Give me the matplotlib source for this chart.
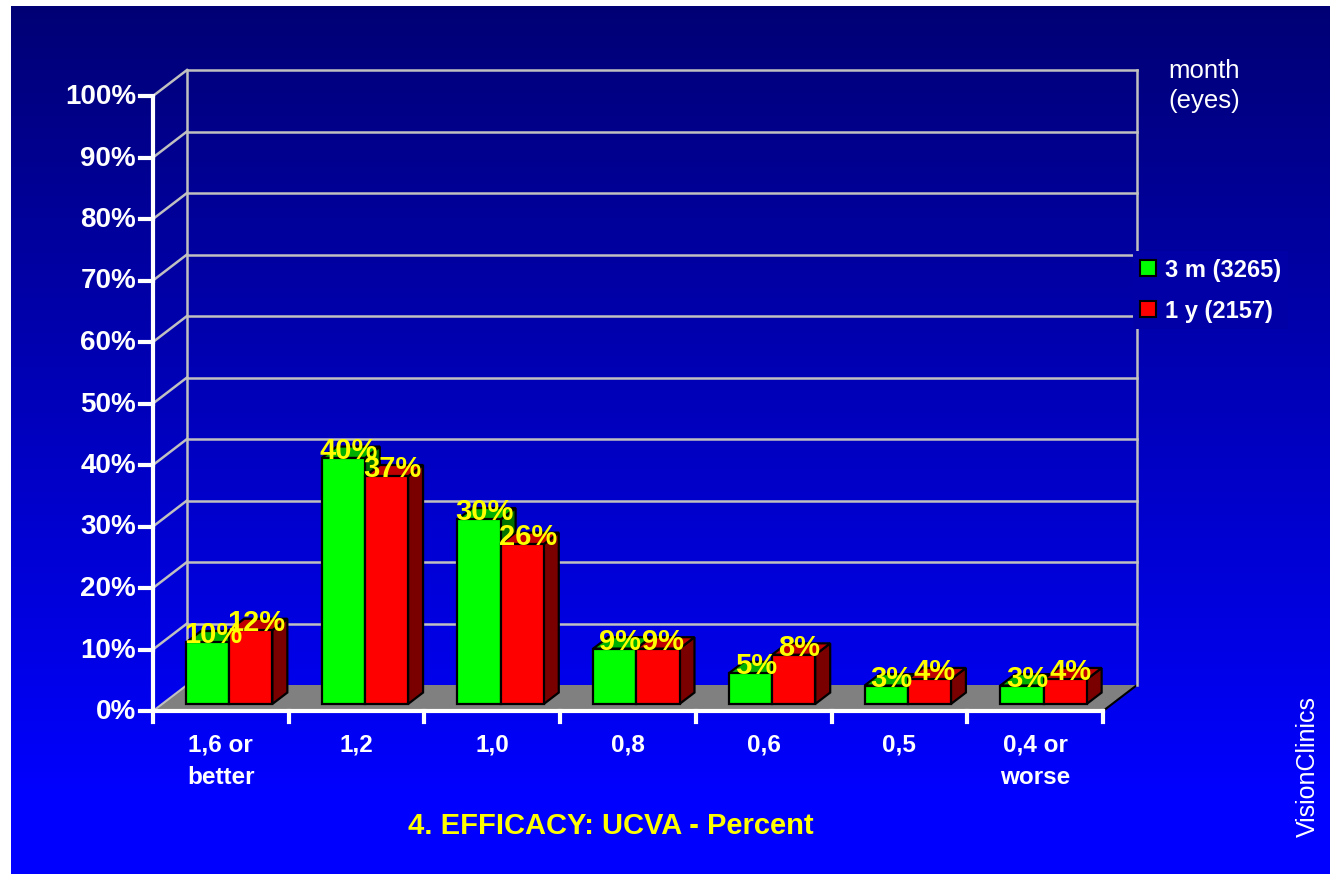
import matplotlib.pyplot as plt
import numpy as np
from matplotlib.patches import Polygon
from matplotlib.lines import Line2D

plt.rcParams['font.family'] = ['Liberation Sans', 'DejaVu Sans']

categories = ['1,6 or\nbetter', '1,2', '1,0', '0,8', '0,6', '0,5', '0,4 or\nworse']
m3 = [10, 40, 30, 9, 5, 3, 3]
y1 = [12, 37, 26, 9, 8, 4, 4]
yticks = np.arange(0, 101, 10)
series_names = ['3 m (3265)', '1 y (2157)']

W, H = 1332, 879
fig = plt.figure(figsize=(W / 100, H / 100), dpi=100, facecolor='white')

# background gradient
bg = fig.add_axes([0, 0, 1, 1])
bg.set_xlim(0, W)
bg.set_ylim(H, 0)
bg.axis('off')


def shade(yp):
    t = min(max((yp - 7) / 790, 0), 1)
    return (0, 0, (0x75 + (0xFF - 0x75) * t) / 255)


grad = np.array([shade(v) for v in np.linspace(7, 875, 300)])[:, None, :]
bg.imshow(grad, extent=(11, 1330, 875, 7), aspect='auto', zorder=0)

# main "3d" axes, front plane in data coords
n = len(categories)
ax = fig.add_axes([153 / W, (H - 712) / H, 950 / W, 615 / H])
ax.set_xlim(0, n)
ax.set_ylim(0, 100)
ax.axis('off')
ax.patch.set_visible(False)

DX = 34 / (950 / n)
DY = 26 / 6.15
f0, f1 = 0.27, 0.71
a, w = 0.176, 0.318
grid_c = '#C0C0C0'

# floor
ax.add_patch(Polygon([(0, 0), (n, 0), (n + DX, DY), (DX, DY)], closed=True,
                     fc='#808080', ec='none', zorder=1, clip_on=False))
ax.plot([n, n + DX], [0, DY], color='black', lw=1.5, zorder=1, clip_on=False)
ax.plot([0, DX], [0, DY], color=grid_c, lw=1.5, zorder=1, clip_on=False)

# walls and gridlines
for t in yticks[1:]:
    ax.plot([DX, n + DX], [t + DY, t + DY], color=grid_c, lw=1.8, zorder=1, clip_on=False)
    ax.plot([0, DX], [t, t + DY], color=grid_c, lw=1.8, zorder=1, clip_on=False)
ax.plot([DX, DX], [DY, 100 + DY], color=grid_c, lw=1.8, zorder=1, clip_on=False)
ax.plot([n + DX, n + DX], [DY, 100 + DY], color=grid_c, lw=1.8, zorder=1, clip_on=False)

# axes lines, ticks, labels
ax.plot([0, 0], [0, 100], color='white', lw=3, zorder=3, clip_on=False, solid_capstyle='butt')
ax.plot([0, n], [0, 0], color='white', lw=3, zorder=3, clip_on=False, solid_capstyle='projecting')
for t in yticks:
    ax.plot([-0.096, 0], [t, t], color='white', lw=3, zorder=3, clip_on=False)
    ax.text(-0.125, t, f'{t}%', ha='right', va='center', color='white',
            fontsize=20, fontweight='bold')
for i in range(n + 1):
    ax.plot([i, i], [0, -1.8], color='white', lw=3, zorder=3, clip_on=False)
for i, c in enumerate(categories):
    ax.text(i + 0.5, -3.5, c, ha='center', va='top', color='white',
            fontsize=17.5, fontweight='bold', linespacing=1.5)


def box(x0, h, front, top, side):
    p_front = [(x0 + f0 * DX, f0 * DY), (x0 + w + f0 * DX, f0 * DY),
               (x0 + w + f0 * DX, h + f0 * DY), (x0 + f0 * DX, h + f0 * DY)]
    p_top = [(x0 + f0 * DX, h + f0 * DY), (x0 + w + f0 * DX, h + f0 * DY),
             (x0 + w + f1 * DX, h + f1 * DY), (x0 + f1 * DX, h + f1 * DY)]
    p_side = [(x0 + w + f0 * DX, f0 * DY), (x0 + w + f1 * DX, f1 * DY),
              (x0 + w + f1 * DX, h + f1 * DY), (x0 + w + f0 * DX, h + f0 * DY)]
    for p, c in [(p_side, side), (p_top, top), (p_front, front)]:
        ax.add_patch(Polygon(p, closed=True, fc=c, ec='black', lw=1.6,
                             joinstyle='miter', zorder=4, clip_on=False))


for i in range(n):
    box(i + a, m3[i], '#00FF00', '#00B000', '#007000')
    box(i + a + w, y1[i], '#FF0000', '#C00000', '#7A0000')

for i in range(n):
    for k, v in enumerate([m3[i], y1[i]]):
        ax.text(i + a + k * w + w / 2 + 0.43 * DX, v + f0 * DY, f'{v}%',
                ha='center', va='baseline', color='#FFFF00', fontsize=21,
                fontweight='bold', zorder=6)

# legend
handles = [Line2D([], [], marker='s', ls='none', markersize=11, mfc=c, mec='black', mew=1.5)
           for c in ['#00FF00', '#FF0000']]
leg = fig.legend(handles, series_names, loc='upper left',
                 bbox_to_anchor=(1133 / W, 1 - 252 / H), frameon=True,
                 facecolor=shade(285), edgecolor='none', framealpha=1,
                 prop={'weight': 'bold', 'size': 17}, labelcolor='white',
                 handlelength=0.7, handletextpad=0.35, labelspacing=0.75,
                 borderpad=0.3, borderaxespad=0)
leg.get_frame().set_boxstyle('square', pad=0)

fig.text(1204 / W, 1 - 86 / H, 'month\n(eyes)', ha='center', va='center',
         color='white', fontsize=18.5, linespacing=1.35)
fig.text(611 / W, 1 - 826 / H, '4. EFFICACY: UCVA - Percent', ha='center', va='center',
         color='#FFFF00', fontsize=21, fontweight='bold')
fig.text(1308 / W, 1 - 767 / H, 'VisionClinics', ha='center', va='center',
         rotation=90, color='white', fontsize=18)

fig.savefig('out.png', dpi=100, facecolor='white')
